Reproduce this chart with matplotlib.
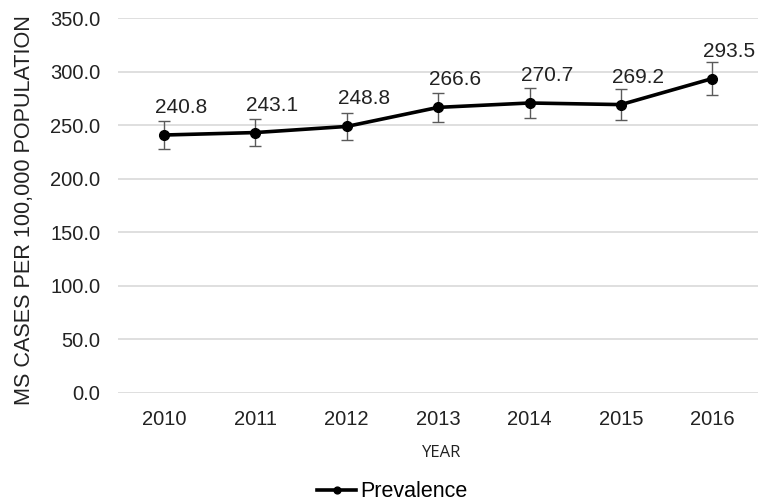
import numpy as np
import matplotlib.pyplot as plt

plt.rcParams['font.family'] = ['Liberation Sans', 'DejaVu Sans']

# Prevalence of MS per 100,000 population, with error margins
years = ["2010", "2011", "2012", "2013", "2014", "2015", "2016"]
prevalence = [240.8, 243.1, 248.8, 266.6, 270.7, 269.2, 293.5]
err = [13.0, 13.0, 13.0, 13.5, 14.0, 14.5, 15.0]

fig = plt.figure(figsize=(7.58, 5.01), dpi=100)
ax = fig.add_axes([0.156, 0.2156, 0.844, 0.7484])

x = np.arange(len(years))
ax.errorbar(x, prevalence, yerr=err, fmt='none', ecolor='#5a5a5a',
            elinewidth=1.0, capsize=4, capthick=1.0, zorder=2)
ax.plot(x, prevalence, color='black', lw=2.6, marker='o', ms=7,
        label='Prevalence', zorder=3)

for xi, v in zip(x, prevalence):
    ax.annotate(f"{v:.1f}", (xi, v), xytext=(-9, 22), textcoords='offset pixels',
                ha='left', va='baseline', fontsize=15, color='#222222')

ax.set_xlim(-0.5, len(years) - 0.5)
ax.set_ylim(0, 350)
ax.set_yticks(np.arange(0, 351, 50))
ax.set_yticklabels([f"{t:.1f}" for t in np.arange(0, 351, 50)])
ax.set_xticks(x)
ax.set_xticklabels(years)
ax.tick_params(axis='both', length=0, labelsize=14.5, colors='#222222')
ax.tick_params(axis='x', pad=12)
ax.tick_params(axis='y', pad=13)

ax.grid(axis='y', color='#d9d9d9', lw=1.2)
ax.set_axisbelow(True)
for s in ax.spines.values():
    s.set_visible(False)

ax.set_ylabel("MS CASES PER 100,000 POPULATION", fontsize=15.6, color='#222222')
ax.yaxis.set_label_coords(-0.13, 0.487)
fig.text(0.582, 0.096, "YEAR", ha='center', va='center', fontsize=12, color='#222222',
         family=['Liberation Sans Narrow', 'Open Sans', 'DejaVu Sans'])

leg = fig.legend(loc='center', bbox_to_anchor=(0.518, 0.018), frameon=False, fontsize=15.5,
                 handlelength=1.8, handletextpad=0.2, borderpad=0, markerscale=0.7)

fig.savefig("out.png", dpi=100)
